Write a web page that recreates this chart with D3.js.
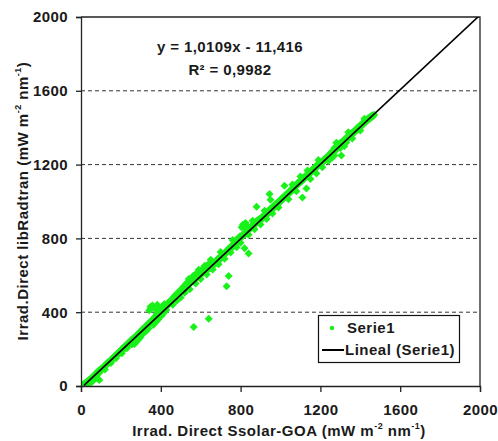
<!DOCTYPE html>
<html>
<head>
<meta charset="utf-8">
<script src="https://cdn.jsdelivr.net/npm/d3@7"></script>
<style>
  body { margin: 0; background: #fff; }
  text { font-family: "Liberation Sans", Arial, sans-serif; font-weight: bold; fill: #1a1a1a; }
</style>
</head>
<body>
<script>
// Serie1: [Irrad. Direct Ssolar-GOA, Irrad. Direct libRadtran]
const serie1 = [
  [2,4],[5,0],[8,6],[10,2],[12,10],[15,3],[18,12],[20,8],[22,18],[25,14],[28,20],[30,10],[32,26],[35,22],
  [38,30],[40,18],[42,34],[45,28],[48,40],[50,36],[52,20],[55,46],[58,40],[60,52],[62,30],[65,56],[68,50],
  [70,62],[72,44],[75,66],[78,58],[80,74],[82,40],[85,78],[88,68],[90,84],[92,32],[95,86],[98,80],[100,94],
  [105,92],[108,100],[110,96],[115,104],[118,110],[120,108],[125,116],[128,112],[130,124],[135,122],[138,130],
  [140,128],[145,136],[148,132],[150,144],[155,142],[158,150],[160,146],[165,158],[168,152],[170,164],[175,160],
  [178,172],[180,166],[185,178],[188,172],[190,184],[195,180],[198,192],[200,188],[205,200],[208,194],[210,206],
  [215,200],[218,214],[220,206],[225,220],[228,212],[230,226],[235,222],[238,234],[240,226],[245,240],[248,230],
  [250,246],[252,250],[258,244],[260,258],[265,252],[268,228],[270,266],[275,258],[278,240],[280,276],[285,270],
  [288,252],[290,288],[295,284],[298,264],[300,298],[305,296],[308,280],[310,310],[315,306],[318,292],[320,320],
  [325,318],[328,300],[330,330],[335,330],[338,312],[340,342],[342,410],[345,340],[348,430],[350,352],[352,418],
  [355,348],[358,436],[360,362],[362,330],[365,360],[368,340],[370,376],[372,420],[375,372],[378,350],[380,392],
  [382,440],[385,386],[388,362],[390,398],[392,374],[395,392],[398,420],[400,404],[402,380],[405,410],[408,430],
  [410,416],[412,392],[415,420],[418,444],[420,426],[425,430],[428,412],
  [430,440],[435,436],[438,452],[440,446],[445,452],[448,462],[450,458],[455,464],[458,474],[460,470],[465,478],
  [468,486],[470,480],[475,490],[478,498],[480,490],[485,500],[488,508],[490,502],[495,512],[498,520],[500,510],
  [505,520],[508,530],[510,524],[515,536],[518,544],[520,530],[525,546],[528,556],[530,540],[535,556],[538,566],
  [540,552],[545,566],[548,578],[550,560],[555,574],[558,588],[560,570],[562,596],[565,584],[568,600],[570,580],
  [575,596],[578,608],[580,588],[585,606],[588,618],[590,596],[595,614],[598,626],[600,606],
  [605,620],[608,632],[610,612],[615,628],[618,640],[620,618],[625,636],[628,650],[630,626],[635,644],[638,658],
  [640,634],[645,652],[648,666],[650,640],[655,660],[658,674],[660,650],[665,668],[670,660],[675,676],[680,668],
  [685,690],[690,680],[695,698],[700,690],[705,706],[710,700],[715,716],[720,712],[725,728],[730,722],[735,740],
  [740,732],[745,750],[750,742],[755,760],[760,752],[765,772],[770,764],[775,788],[780,776],[785,800],[790,786],
  [795,810],[800,800],
  [565,320],[640,364],[730,540],[740,596],[820,746],[840,718],
  [805,860],[812,876],[818,862],[825,884],[830,870],[808,816],[815,826],[822,820],[830,836],[838,842],[845,850],
  [850,858],[855,866],[860,862],[865,880],[870,876],[875,890],[880,884],[880,972],[885,898],[890,892],[895,906],
  [900,900],[905,914],[910,906],[915,924],[920,918],[925,934],[930,926],[935,944],[940,936],[945,1040],[950,1010],
  [945,956],[950,950],[955,966],[960,958],[965,976],[970,968],[975,986],[980,978],[985,996],[990,990],[995,1004],
  [1000,998],
  [1005,1016],[1010,1010],[1015,1026],[1020,1086],[1020,1020],[1025,1036],[1030,1030],[1035,1046],[1040,1040],
  [1045,1056],[1050,1050],[1055,1068],[1060,1060],[1065,1080],[1070,1072],[1075,1090],[1080,1084],[1085,1100],
  [1090,1094],[1095,1110],[1100,1104],[1105,1120],[1110,1022],[1110,1112],[1115,1130],[1120,1124],[1125,1140],
  [1130,1070],[1130,1134],[1135,1168],[1140,1144],[1145,1160],[1150,1154],[1155,1170],[1160,1164],[1165,1180],
  [1170,1172],[1175,1190],[1180,1184],[1185,1200],[1190,1194],[1195,1210],[1200,1202],
  [1205,1210],[1210,1220],[1215,1214],[1220,1230],[1225,1226],[1230,1240],[1235,1234],[1240,1250],[1245,1246],
  [1250,1262],[1255,1256],[1260,1274],[1265,1266],[1270,1290],[1275,1276],[1280,1300],[1285,1286],[1290,1310],
  [1295,1296],[1300,1318],[1305,1308],[1310,1326],[1315,1318],[1320,1336],[1325,1328],[1330,1346],[1335,1338],
  [1340,1356],[1345,1348],[1350,1366],[1355,1358],[1360,1374],[1365,1368],[1370,1384],[1375,1378],[1380,1394],
  [1385,1388],[1390,1404],[1395,1398],[1400,1414],[1405,1408],[1410,1424],[1415,1418],[1420,1434],[1425,1428],
  [1430,1442],[1435,1438],[1440,1452],[1445,1446],[1450,1460],[1455,1454],[1460,1468],[1465,1462],[1470,1470],
  [1240,1220],[1260,1238],[1300,1290],[1330,1320],[1305,1250],
  // spread on both sides of the band
  [120,90],[150,125],[175,150],[205,178],[230,205],[255,225],[300,272],[330,305],
  [460,440],[480,462],[500,480],[520,505],[545,525],[575,555],[600,580],[630,605],[660,632],[690,660],
  [720,690],[750,724],[780,752],[800,776],[620,652],[650,684],[700,726],[760,792],[540,580],[590,630],
  [840,820],[870,850],[900,875],[930,905],[960,935],[990,968],[860,895],[920,950],
  [1040,1012],[1080,1055],[1150,1122],[1180,1152],[1060,1092],[1100,1136],[1210,1185],[1190,1225],
  [1270,1250],[1320,1300],[1360,1342],[1400,1385],[1280,1318],[1340,1375],[1420,1448]
];

const xTicks = [0, 400, 800, 1200, 1600, 2000];
const yTicks = [0, 400, 800, 1200, 1600, 2000];
const gridTicks = [400, 800, 1200, 1600];

// trend line "Lineal (Serie1)"
const trendSlope = 1.0109;
const trendIntercept = -11.416;
const trendFrom = [15, 2000];

const eqLines = ["y = 1,0109x - 11,416", "R² = 0,9982"];

var w = 498;
var h = 441;
var pL = 81, pR = 480, pT = 17, pB = 386;

var x = d3.scaleLinear().domain([0, 2000]).range([pL, pR]);
var y = d3.scaleLinear().domain([0, 2000]).range([pB, pT]);

var svg = d3.select("body")
    .append("svg")
    .attr("width", w)
    .attr("height", h);

svg.append("defs").append("clipPath")
    .attr("id", "plot")
    .append("rect")
    .attr("x", pL).attr("y", pT)
    .attr("width", pR - pL).attr("height", pB - pT);

// dashed gridlines
svg.append("g")
    .selectAll("line")
    .data(gridTicks)
    .enter()
    .append("line")
    .attr("x1", pL).attr("x2", pR)
    .attr("y1", function(d) { return y(d); })
    .attr("y2", function(d) { return y(d); })
    .attr("stroke", "#333")
    .attr("stroke-width", 1)
    .attr("stroke-dasharray", "4,3");

// frame top/right
svg.append("path")
    .attr("d", "M" + pL + "," + pT + "H" + pR + "V" + pB)
    .attr("fill", "none")
    .attr("stroke", "#222")
    .attr("stroke-width", 1.3);

// points
var diamond = "M0,-4L4,0L0,4L-4,0Z";
svg.append("g")
    .attr("clip-path", "url(#plot)")
    .selectAll("path")
    .data(serie1)
    .enter()
    .append("path")
    .attr("d", diamond)
    .attr("transform", function(d) { return "translate(" + x(d[0]) + "," + y(d[1]) + ")"; })
    .attr("fill", "#19f219");

// trend line
var trend = trendFrom.map(function(v) { return [v, trendSlope * v + trendIntercept]; });
svg.append("path")
    .datum(trend)
    .attr("clip-path", "url(#plot)")
    .attr("d", d3.line().x(function(d) { return x(d[0]); }).y(function(d) { return y(d[1]); }))
    .attr("fill", "none")
    .attr("stroke", "#000")
    .attr("stroke-width", 1.6);

// axes
var xAxis = svg.append("g")
    .attr("transform", "translate(0," + pB + ")")
    .call(d3.axisBottom(x).tickValues(xTicks).tickSize(6).tickPadding(9).tickFormat(d3.format("d")));
var yAxis = svg.append("g")
    .attr("transform", "translate(" + pL + ",0)")
    .call(d3.axisLeft(y).tickValues(yTicks).tickSize(5).tickPadding(8).tickFormat(d3.format("d")));

[xAxis, yAxis].forEach(function(a) {
    a.select(".domain").attr("stroke", "#222").attr("stroke-width", 1.3);
    a.selectAll(".tick line").attr("stroke", "#222").attr("stroke-width", 1.3);
    a.selectAll(".tick text")
        .style("font-size", "15px")
        .style("letter-spacing", "0.4px")
        .attr("fill", "#1a1a1a");
});
xAxis.selectAll(".tick text").attr("dy", "0.95em");

// axis titles with superscripts
function unitTitle(sel, main) {
    sel.append("tspan").text(main + " (mW m");
    sel.append("tspan").attr("dy", -7).style("font-size", "9px").text("-2");
    sel.append("tspan").attr("dy", 7).text(" nm");
    sel.append("tspan").attr("dy", -7).style("font-size", "9px").text("-1");
    sel.append("tspan").attr("dy", 7).text(")");
}

var xTitle = svg.append("text")
    .attr("x", 279)
    .attr("y", 436)
    .attr("text-anchor", "middle")
    .style("font-size", "15px")
    .style("letter-spacing", "0.5px");
unitTitle(xTitle, "Irrad. Direct Ssolar-GOA");

var yTitle = svg.append("text")
    .attr("transform", "translate(28," + 201 + ") rotate(-90)")
    .attr("text-anchor", "middle")
    .style("font-size", "15px")
    .style("letter-spacing", "0.5px");
unitTitle(yTitle, "Irrad.Direct libRadtran");

// equation
svg.append("g")
    .selectAll("text")
    .data(eqLines)
    .enter()
    .append("text")
    .attr("x", 230)
    .attr("y", function(d, i) { return 52 + i * 23; })
    .attr("text-anchor", "middle")
    .style("font-size", "15px")
    .style("letter-spacing", "0.4px")
    .text(function(d) { return d; });

// legend
var lg = svg.append("g");
lg.append("rect")
    .attr("x", 318.5).attr("y", 315.5)
    .attr("width", 141).attr("height", 47)
    .attr("fill", "#fff")
    .attr("stroke", "#111")
    .attr("stroke-width", 1.2);
lg.append("circle")
    .attr("cx", 332).attr("cy", 328).attr("r", 2.2)
    .attr("fill", "#19f219");
lg.append("text")
    .attr("x", 347).attr("y", 333)
    .style("font-size", "15px")
    .style("letter-spacing", "0.5px")
    .text("Serie1");
lg.append("line")
    .attr("x1", 322).attr("x2", 344)
    .attr("y1", 350).attr("y2", 350)
    .attr("stroke", "#000")
    .attr("stroke-width", 2);
lg.append("text")
    .attr("x", 345).attr("y", 355)
    .style("font-size", "15px")
    .style("letter-spacing", "0.5px")
    .text("Lineal (Serie1)");
</script>
</body>
</html>
